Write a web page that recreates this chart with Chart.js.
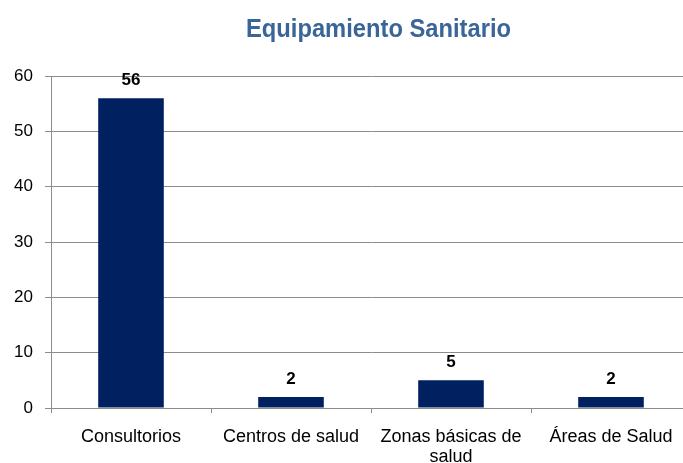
<!DOCTYPE html>
<html><head><meta charset="utf-8">
<script src="https://cdn.jsdelivr.net/npm/chart.js@4/dist/chart.umd.min.js"></script>
<style>
html,body{margin:0;padding:0;background:#fff;overflow:hidden;}
#wrap{width:700px;height:463px;}
</style></head>
<body><div id="wrap"><canvas id="c" width="700" height="463"></canvas></div>
<script>
const titleText = "Equipamiento Sanitario";
const categories = ["Consultorios", "Centros de salud", ["Zonas básicas de", "salud"], "Áreas de Salud"];
const values = [56, 2, 5, 2];
const yTicks = [0, 10, 20, 30, 40, 50, 60];

const valueLabels = {
  id: 'valueLabels',
  afterDatasetsDraw(chart) {
    const ctx = chart.ctx;
    const meta = chart.getDatasetMeta(0);
    ctx.save();
    ctx.font = 'bold 17px "Liberation Sans", Arial, sans-serif';
    ctx.fillStyle = '#000';
    ctx.textAlign = 'center';
    ctx.textBaseline = 'middle';
    meta.data.forEach((el, i) => {
      ctx.fillText(String(values[i]), el.x, el.y - 18);
    });
    ctx.restore();
  }
};
const titlePlugin = {
  id: 'titlePlugin',
  afterDraw(chart) {
    const ctx = chart.ctx;
    ctx.save();
    ctx.font = 'bold 26px "Liberation Sans", Arial, sans-serif';
    ctx.fillStyle = '#3A6598';
    ctx.textAlign = 'center';
    ctx.textBaseline = 'alphabetic';
    const w = ctx.measureText(titleText).width;
    const sx = 265 / w;
    ctx.translate(378.5, 37);
    ctx.scale(sx, 1);
    ctx.fillText(titleText, 0, 0);
    ctx.restore();
  }
};

new Chart(document.getElementById('c'), {
  type: 'bar',
  data: { labels: categories, datasets: [{ data: values, backgroundColor: '#002060', borderWidth: 0, barPercentage: 0.41, categoryPercentage: 1 }] },
  options: {
    responsive: false, animation: false, devicePixelRatio: 1,
    layout: { padding: { left: 0, right: 9, top: 76, bottom: 0 } },
    plugins: { legend: { display: false }, title: { display: false }, tooltip: { enabled: false } },
    scales: {
      x: {
        afterFit(s) { s.height = 55; },
        grid: { offset: true, drawOnChartArea: false, tickLength: 5, color: '#8c8c8c' },
        border: { color: '#8c8c8c' },
        ticks: { color: '#000', padding: 14, font: { size: 18, family: '"Liberation Sans", Arial, sans-serif', lineHeight: 1.1 }, maxRotation: 0, autoSkip: false }
      },
      y: {
        min: 0, max: 60,
        afterFit(s) { s.width = 51; },
        afterBuildTicks(s) { s.ticks = yTicks.map(v => ({ value: v })); },
        grid: { color: '#8c8c8c', tickLength: 6 },
        border: { color: '#8c8c8c' },
        ticks: { color: '#000', padding: 12, font: { size: 17, family: '"Liberation Sans", Arial, sans-serif' } }
      }
    }
  },
  plugins: [valueLabels, titlePlugin]
});
</script></body></html>
